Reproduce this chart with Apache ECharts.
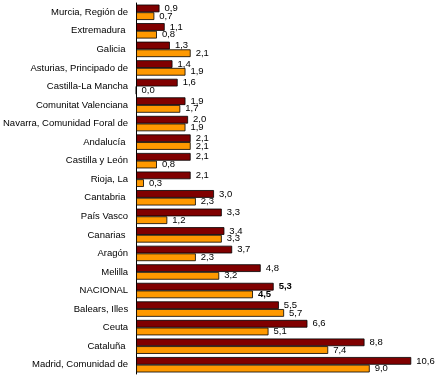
<!DOCTYPE html>
<html><head><meta charset="utf-8">
<script src="https://cdn.jsdelivr.net/npm/echarts@6/dist/echarts.min.js"></script>
<style>html,body{margin:0;padding:0;background:#fff}#c{width:440px;height:383px}</style>
</head><body><div id="c"></div>
<script>
const categories = ["Murcia, Región de","Extremadura ","Galicia ","Asturias, Principado de","Castilla-La Mancha","Comunitat Valenciana","Navarra, Comunidad Foral de","Andalucía ","Castilla y León","Rioja, La","Cantabria ","País Vasco","Canarias ","Aragón","Melilla","NACIONAL","Balears, Illes","Ceuta","Cataluña ","Madrid, Comunidad de"];
const series1 = [0.9,1.1,1.3,1.4,1.6,1.9,2.0,2.1,2.1,2.1,3.0,3.3,3.4,3.7,4.8,5.3,5.5,6.6,8.8,10.6];
const series2 = [0.7,0.8,2.1,1.9,0.0,1.7,1.9,2.1,0.8,0.3,2.3,1.2,3.3,2.3,3.2,4.5,5.7,5.1,7.4,9.0];
const boldCat = "NACIONAL";
const fmt = v => v.toFixed(1).replace('.', ',');
function mk(vals, color){
  return {
    type:'bar',
    data: vals.map((v,i)=>({value:v, label: categories[i]===boldCat?{fontWeight:'bold'}:undefined})),
    itemStyle:{color:color,borderColor:'#000',borderWidth:0.8},
    barGap:'0%', barCategoryGap:'17%',
    label:{show:true,position:'right',distance:5,fontFamily:'Liberation Sans, Arial, sans-serif',fontSize:9.5,color:'#000',formatter:p=>fmt(p.value)},
    animation:false
  };
}
const chart = echarts.init(document.getElementById('c'),null,{renderer:'canvas'});
chart.setOption({
  animation:false,
  grid:{left:129,right:18.4,top:3,bottom:9,containLabel:false},
  xAxis:{type:'value',min:0,max:11,show:false},
  yAxis:{type:'category',data:categories,inverse:true,
    axisLine:{lineStyle:{color:'#000',width:1}},
    axisTick:{length:3,lineStyle:{color:'#000'}},
    axisLabel:{margin:8,fontFamily:'Liberation Sans, Arial, sans-serif',fontSize:9.5,color:'#000'}},
  series:[mk(series1,'#800000'),mk(series2,'#FF9900')]
});
</script></body></html>
